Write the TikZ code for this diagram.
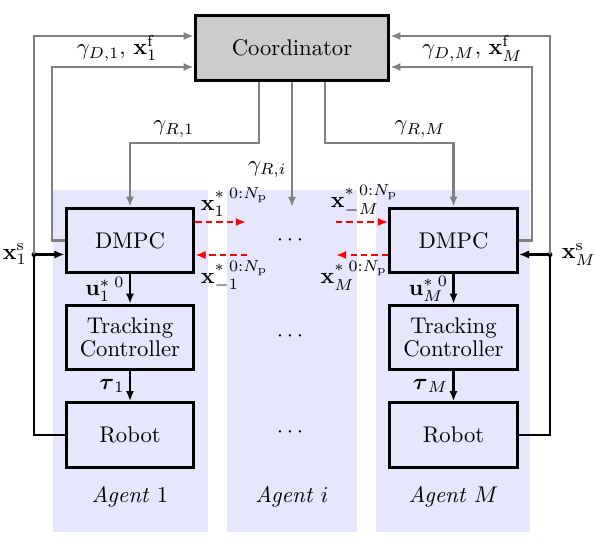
\documentclass[tikz,border=0pt]{standalone}
\usepackage{amsmath}
\usepackage{tikz}
\usetikzlibrary{arrows.meta,calc,positioning}
\definecolor{agentfill}{RGB}{230,230,253}
\definecolor{coordfill}{RGB}{204,204,204}
\tikzset{
    -Latex,auto,semithick,
    tip/.style = {-{Latex[length=4.5pt, width=3.6pt]}},
    block/.style ={rectangle, draw, line width=1.3pt, minimum width=1.98cm, minimum height=1.0cm, align=center},
    coordbox/.style ={block, fill=coordfill, minimum width=3.0cm, minimum height=1.02cm},
    flow/.style = {tip, black, line width=0.9pt},
    info/.style = {tip, gray, line width=0.9pt},
    share/.style = {tip, red, dashed, line width=0.9pt, dash pattern=on 2.8pt off 1.8pt},
    el/.style = {inner sep=2pt, text=black}
}
\begin{document}
\begin{tikzpicture}[x=0.0155cm,y=-0.0155cm]
    \useasboundingbox (0,0) rectangle (594,543);
    % agent panels
    \fill[agentfill] (53,190) rectangle (208,532);
    \fill[agentfill] (227,190) rectangle (357,532);
    \fill[agentfill] (376,190) rectangle (530,532);
    \node (a1) at (130,497) {\textit{Agent} $1$};
    \node (ai) at (292,497) {\textit{Agent} $i$};
    \node (aM) at (453.5,497) {\textit{Agent} $M$};

    \node[coordbox] (coord) at (292,48) {Coordinator};

    \node[block] (dmpc1) at (130,240.5) {DMPC};
    \node[block] (track1) at (130,337.5) {Tracking\\[-2pt]Controller};
    \node[block] (robot1) at (130,435) {Robot};

    \node[block] (dmpcM) at (453.5,240.5) {DMPC};
    \node[block] (trackM) at (453.5,337.5) {Tracking\\[-2pt]Controller};
    \node[block] (robotM) at (453.5,435) {Robot};

    \node (dots1) at (292,240) {$\cdots$};
    \node (dots2) at (292,336) {$\cdots$};
    \node (dots3) at (292,432) {$\cdots$};

    \coordinate (xs1) at (34,254.5);
    \coordinate (xsM) at (550,254.5);
    \coordinate (ri) at (292,207);
    \coordinate (s1o) at (246,222);
    \coordinate (s1i) at (247,255);
    \coordinate (sMi) at (336,222);
    \coordinate (sMo) at (336,255);

    % agent 1
    \path[flow] (dmpc1) edge node[el, left] {$\mathbf{u}_1^{*\;0}$} (track1);
    \path[flow] (track1) edge node[el, left] {$\boldsymbol{\tau}_1$} (robot1);
    \draw[flow] (robot1.west) -| (xs1) -- (dmpc1.west |- xs1);
    \fill (xs1) circle (2.5);
    \node[el, left, xshift=-1] at (xs1) {$\mathbf{x}_1^\mathrm{s}$};

    % agent M
    \path[flow] (dmpcM) edge node[el, left] {$\mathbf{u}_M^{*\;0}$} (trackM);
    \path[flow] (trackM) edge node[el, left] {$\boldsymbol{\tau}_M$} (robotM);
    \draw[flow] (robotM.east) -| (xsM) -- (dmpcM.east |- xsM);
    \fill (xsM) circle (2.5);
    \node[el, right, xshift=3] at (xsM) {$\mathbf{x}_M^\mathrm{s}$};

    % coordinator links
    \draw[info] (xs1) |- ($(coord.west)+(0,-12)$);
    \draw[info] (dmpc1.west) -- ++(-13,0) |- node[el, above, pos=0.73] {$\gamma_{D,1},\,\mathbf{x}_1^\mathrm{f}$} ($(coord.west)+(0,19)$);
    \draw[info] (xsM) |- ($(coord.east)+(0,-12)$);
    \draw[info] (dmpcM.east) -- ++(13,0) |- node[el, above, pos=0.71] {$\gamma_{D,M},\,\mathbf{x}_M^\mathrm{f}$} ($(coord.east)+(0,19)$);
    \draw[info] ($(coord.south)+(-33,0)$) |- node[el, above, pos=0.83] {$\gamma_{R,1}$} ($(dmpc1.north)+(0,-64)$) -- (dmpc1.north);
    \draw[info] ($(coord.south)+(33,0)$) |- node[el, above, pos=0.87] {$\gamma_{R,M}$} ($(dmpcM.north)+(0,-64)$) -- (dmpcM.north);
    \draw[info] (coord.south) -- node[el, left, pos=0.7] {$\gamma_{R,i}$} (ri);

    % neighbour trajectories
    \draw[share] ($(dmpc1.east)+(0,-18.5)$) -- node[el, above right, pos=0] {$\mathbf{x}_1^{*\;0:N_\mathrm{p}}$} (s1o);
    \draw[share] (s1i) -- node[el, below right, pos=1] {$\mathbf{x}_{-1}^{*\;0:N_\mathrm{p}}$} ($(dmpc1.east)+(0,14.5)$);
    \draw[share] (sMi) -- node[el, above, pos=0.55] {$\mathbf{x}_{-M}^{*\;0:N_\mathrm{p}}$} ($(dmpcM.west)+(0,-18.5)$);
    \draw[share] ($(dmpcM.west)+(0,14.5)$) -- node[el, below, pos=0.65] {$\mathbf{x}_M^{*\;0:N_\mathrm{p}}$} (sMo);
\end{tikzpicture}
\end{document}
